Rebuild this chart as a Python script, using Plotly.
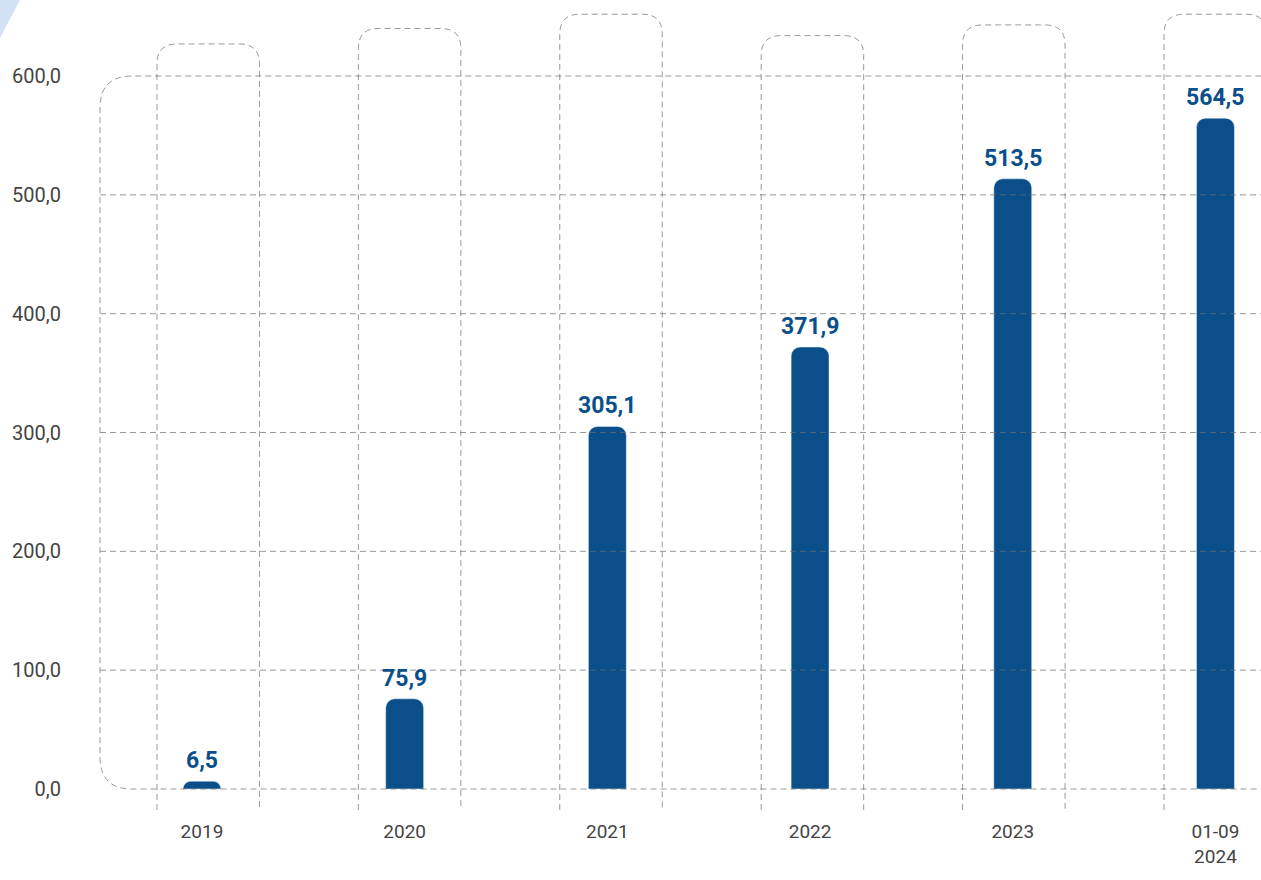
import plotly.graph_objects as go

categories = ["2019", "2020", "2021", "2022", "2023", "01-09<br>2024"]
values = [6.5, 75.9, 305.1, 371.9, 513.5, 564.5]
value_labels = ["6,5", "75,9", "305,1", "371,9", "513,5", "564,5"]
y_ticks = [0, 100, 200, 300, 400, 500, 600]
y_tick_labels = ["0,0", "100,0", "200,0", "300,0", "400,0", "500,0", "600,0"]
deco_tops = [627, 640, 652, 634, 643, 652]

BAR = "#0b4f8a"
GRID = "rgba(110,110,110,0.7)"
W, H = 1261, 880
ML, MR, MT, MB = 96, 0, 0, 65
px_per_cat = 202.7
px_per_val = 1.1883
x0 = -0.503 - 4 / px_per_cat
x1 = x0 + (W - ML - MR) / px_per_cat
y1 = 789 / px_per_val
y0 = y1 - (H - MT - MB) / px_per_val
xs = list(range(len(categories)))

fig = go.Figure()
fig.add_trace(go.Bar(
    x=xs, y=values, width=0.187, marker=dict(color=BAR, cornerradius=9),
    hoverinfo="skip"))

for x, v, t in zip(xs, values, value_labels):
    fig.add_annotation(x=x, y=v, text=f"<b>{t}</b>", showarrow=False,
                       yanchor="bottom", yshift=5,
                       font=dict(family="Roboto", size=23, color=BAR))

shapes = []
dash = "6px,4px"
L = -0.503
rx, ry = 32 / px_per_cat, 32 / px_per_val
path = (f"M {x1+0.1},600 L {L+rx},600 Q {L},600 {L},{600-ry} "
        f"L {L},{ry} Q {L},0 {L+rx},0 L {x1+0.1},0")
shapes.append(dict(type="path", path=path, xref="x", yref="y",
                   line=dict(color=GRID, width=1, dash=dash), layer="above"))
for yv in y_ticks[1:-1]:
    shapes.append(dict(type="line", x0=L, x1=x1 + 0.1, y0=yv, y1=yv,
                       xref="x", yref="y",
                       line=dict(color=GRID, width=1, dash=dash), layer="above"))
crx, cry = 20 / px_per_cat, 20 / px_per_val
bottom = -17.7
col_w = 102.5 / px_per_cat
for x, top in zip(xs, deco_tops):
    lft = x - 0.222 - 0.0064 * x
    rgt = lft + col_w
    p = (f"M {lft},{bottom} L {lft},{top-cry} Q {lft},{top} {lft+crx},{top} "
         f"L {rgt-crx},{top} Q {rgt},{top} {rgt},{top-cry} L {rgt},{bottom}")
    shapes.append(dict(type="path", path=p, xref="x", yref="y",
                       line=dict(color=GRID, width=1, dash=dash), layer="below"))
tx = lambda px: (px - ML) / (W - ML - MR)
ty = lambda py: 1 - (py - MT) / (H - MT - MB)
shapes.append(dict(type="path", xref="paper", yref="paper",
                   path=f"M {tx(0)},{ty(0)} L {tx(20)},{ty(0)} L {tx(0)},{ty(38)} Z",
                   fillcolor="#d3e1f5", line=dict(width=0), layer="below"))

fig.update_layout(
    width=W, height=H, margin=dict(l=ML, r=MR, t=MT, b=MB),
    paper_bgcolor="white", plot_bgcolor="white", showlegend=False,
    shapes=shapes,
    font=dict(family="Roboto", color="#444444"),
    xaxis=dict(range=[x0, x1], tickvals=xs, ticktext=categories,
               showgrid=False, zeroline=False, showline=False, ticks="",
               ticklabelstandoff=3, tickfont=dict(size=19, color="#444444")),
    yaxis=dict(range=[y0, y1], tickvals=y_ticks, ticktext=y_tick_labels,
               showgrid=False, zeroline=False, showline=False, ticks="",
               ticklabelstandoff=34, tickfont=dict(size=20, color="#444444")),
)
fig.write_html("out.html", config={"displayModeBar": False},
               post_script="document.body.style.margin='0';document.body.style.overflow='hidden';")
